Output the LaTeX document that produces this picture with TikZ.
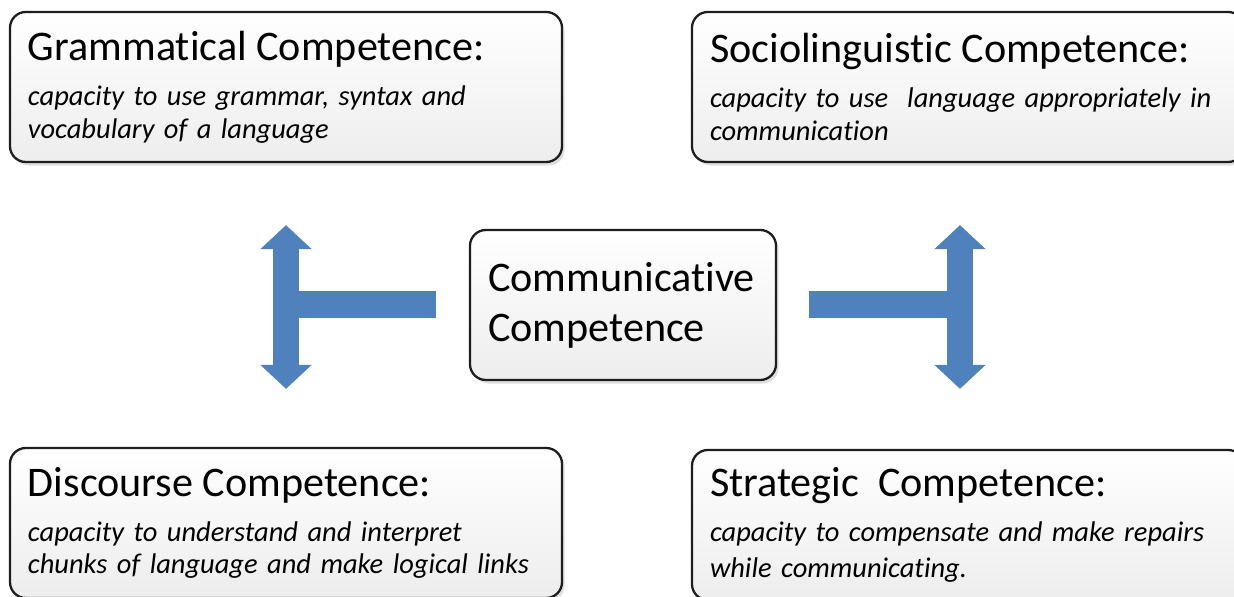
\documentclass[tikz,border=0pt]{standalone}
\definecolor{armblue}{RGB}{79, 129, 189}
\definecolor{boxline}{RGB}{30, 30, 30}
\usepackage{fontspec}
\setmainfont{Carlito}[Ligatures=NoCommon]
\usepackage{tikz}
\usetikzlibrary{arrows.meta, positioning, calc, shadows}
\newcommand{\hd}{\fontsize{24}{28}\selectfont}

\begin{document}
\begin{tikzpicture}[
  compbox/.style={draw=boxline, line width=1.3pt, rounded corners=9pt, top color=white, bottom color=gray!14,
    drop shadow={shadow xshift=1.5pt, shadow yshift=-2pt, opacity=0.25},
    minimum width=11.04cm, minimum height=3cm, text width=10.32cm, inner xsep=0.36cm,
    align=left, font=\fontsize{16.2}{18.6}\selectfont},
  bigarrow/.style={armblue, line width=0.52cm, {Triangle[width=1cm, length=0.48cm]}-{Triangle[width=1cm, length=0.48cm]}},
  bar/.style={armblue, line width=0.54cm}
]
  \useasboundingbox (0,0) rectangle (24.68,11.92);

  % Centre
  \node[compbox, minimum width=6.12cm, text width=5.4cm, font=\fontsize{24}{28.5}\selectfont] (comm) at (12.46, 5.82) {Communicative\\Competence};

  % Four competences
  \node[compbox] (gram) at (5.72, 10.18) {
    {\hd Grammatical Competence:}\\[7pt]
    \textit{capacity to use grammar, syntax and}\\
    \textit{vocabulary of a language}
  };
  \node[compbox] (socio) at (19.36, 10.18) {
    {\hd Sociolinguistic Competence:}\\[7pt]
    \textit{capacity to use\ \ language appropriately in}\\
    \textit{communication}
  };
  \node[compbox] (disc) at (5.72, 1.46) {
    {\hd Discourse Competence:}\\[7pt]
    \textit{capacity to understand and interpret}\\
    \textit{chunks of language and make logical links}
  };
  \node[compbox] (strat) at (19.36, 1.42) {
    {\hd Strategic\ \ Competence:}\\[7pt]
    \textit{capacity to compensate and make repairs}\\[2pt]
    \textit{while communicating.}
  };

  % Left arm
  \draw[bar, shorten <=0.66cm] (comm.west) -- (comm.west -| gram.south);
  \draw[bigarrow, shorten <=1.24cm, shorten >=1.16cm] (gram.south) -- (disc.north);

  % Right arm
  \coordinate (rtop) at ([xshift=-0.16cm]socio.south);
  \coordinate (rbot) at ([xshift=-0.16cm]strat.north);
  \draw[bar, shorten <=0.64cm] (comm.east) -- (comm.east -| rtop);
  \draw[bigarrow, shorten <=1.24cm, shorten >=1.2cm] (rtop) -- (rbot);
\end{tikzpicture}
\end{document}
